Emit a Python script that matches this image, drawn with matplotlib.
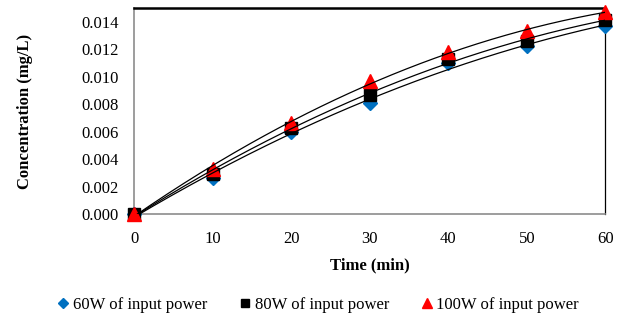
import numpy as np
import matplotlib.pyplot as plt

plt.rcParams["font.family"] = ["Liberation Serif", "DejaVu Serif"]

time_min = [0, 10, 20, 30, 40, 50, 60]
conc_60w = [0.0, 0.0026, 0.0060, 0.0081, 0.0110, 0.0122, 0.0137]
conc_80w = [0.0, 0.0029, 0.0063, 0.0087, 0.0113, 0.0126, 0.0141]
conc_100w = [0.0, 0.0033, 0.0066, 0.0097, 0.0118, 0.0133, 0.0147]
labels = ["60W of input power", "80W of input power", "100W of input power"]
series = [conc_60w, conc_80w, conc_100w]
markers = ["D", "s", "^"]
colors = ["#0070C0", "black", "red"]
sizes = [7, 8, 10]

fig = plt.figure(figsize=(6.24, 3.2), dpi=100)
ax = fig.add_axes([0.215, 0.331, 0.755, 0.644])

t = np.array(time_min)
tt = np.linspace(0, 60, 200)
for y, m, c, s, lab in zip(series, markers, colors, sizes, labels):
    ax.plot(t, y, linestyle="none", marker=m, color=c, ms=s, label=lab,
            clip_on=False, zorder=3)
for y in series:
    p = np.polyfit(t, y, 2)
    ax.plot(tt, np.polyval(p, tt), color="black", lw=0.9, zorder=4)

ax.set_xlim(0, 60)
ax.set_ylim(0, 0.015)
ax.set_xticks(np.arange(0, 61, 10))
ax.set_yticks(np.arange(0, 0.0141, 0.002))
ax.set_yticklabels([f"{v:.3f}" for v in np.arange(0, 0.0141, 0.002)])
ax.tick_params(length=0, labelsize=12)
ax.tick_params(axis="x", pad=12)
ax.tick_params(axis="y", pad=11)
ax.set_xlabel("Time (min)", fontsize=12, fontweight="bold", labelpad=8)
ax.set_ylabel("Concentration (mg/L)", fontsize=12, fontweight="bold", labelpad=35)
for side in ["left", "bottom"]:
    ax.spines[side].set_color("#8c8c8c")
    ax.spines[side].set_linewidth(1.2)
ax.spines["top"].set_linewidth(1.8)
ax.spines["right"].set_linewidth(0.9)

leg = ax.legend(loc="upper center", bbox_to_anchor=(0.39, -0.37), ncol=3,
                frameon=False, fontsize=12, handlelength=0.8, handletextpad=0.15,
                columnspacing=1.9, markerscale=0.75, borderaxespad=0)

fig.savefig("out.png", dpi=100)
